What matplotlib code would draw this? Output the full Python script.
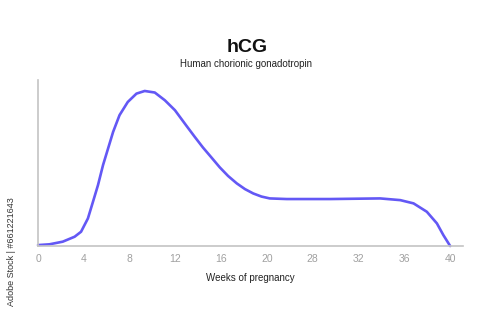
import matplotlib.pyplot as plt

# tick labels on the x axis (evenly spaced, 24 is not shown)
week_labels = ['0', '4', '8', '12', '16', '20', '28', '32', '36', '40']

# curve: x in tick-slot units, y = relative hCG level (peak = 100)
curve_x = [0.0, 0.25, 0.54, 0.80, 0.94, 1.09, 1.20, 1.31, 1.42, 1.53, 1.64, 1.78,
           1.96, 2.15, 2.33, 2.55, 2.77, 2.99, 3.24, 3.42, 3.60, 3.79, 3.97, 4.15,
           4.34, 4.52, 4.70, 4.88, 5.06, 5.43, 6.38, 7.47, 7.91, 8.20, 8.49, 8.71,
           8.85, 9.0]
curve_y = [0.6, 1.1, 2.8, 6.0, 9.2, 17.8, 28.5, 39.3, 52.2, 62.9, 73.6, 84.4,
           92.9, 98.3, 100, 99.0, 94.0, 87.6, 77.6, 70.5, 63.6, 57.0, 50.7, 45.2,
           40.4, 36.7, 33.9, 31.9, 30.7, 30.3, 30.3, 30.7, 29.6, 27.5, 22.1, 14.6,
           7.1, 0]

plt.rcParams['font.family'] = ['Liberation Sans', 'DejaVu Sans']

fig = plt.figure(figsize=(5, 3.13), dpi=100)
ax = fig.add_axes([0.076, 0.214, 0.85, 0.53])

ax.plot(curve_x, curve_y, color='#6358f5', linewidth=1.9, clip_on=False,
        solid_capstyle='round', solid_joinstyle='round')

ax.set_xlim(0, 9.28)
ax.set_ylim(0, 107)
ax.set_xticks(range(len(week_labels)))
ax.set_xticklabels(week_labels)
ax.set_yticks([])
ax.tick_params(axis='x', length=0, pad=6, labelsize=7.5, labelcolor='#a0a0a0')

for side in ['top', 'right']:
    ax.spines[side].set_visible(False)
for side in ['left', 'bottom']:
    ax.spines[side].set_color('#c4c4c4')
    ax.spines[side].set_linewidth(1.2)

ax.set_xlabel('Weeks of pregnancy', fontsize=7, color='#222222', labelpad=6)

fig.text(0.494, 0.835, 'hCG', ha='center', va='baseline', fontsize=14,
         fontweight='bold', color='#111111')
fig.text(0.492, 0.795, 'Human chorionic gonadotropin', ha='center', va='center',
         fontsize=7, color='#222222')
fig.text(0.024, 0.195, 'Adobe Stock | #661221643', rotation=90, ha='center',
         va='center', fontsize=6.5, color='#333333')

fig.savefig('out.png', dpi=100)
